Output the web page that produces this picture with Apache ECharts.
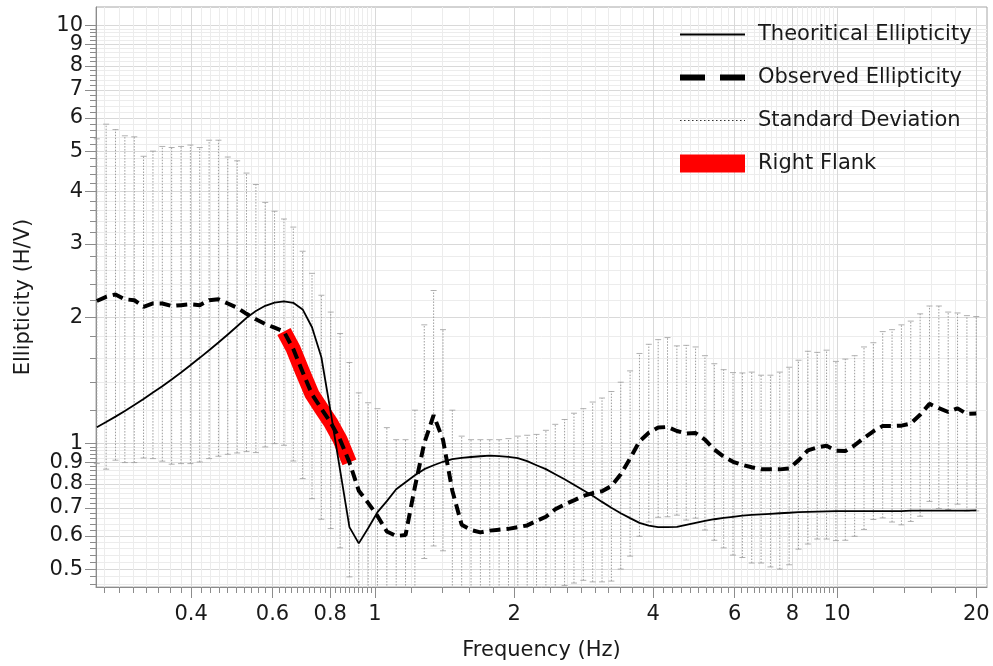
<!DOCTYPE html>
<html><head><meta charset="utf-8">
<script src="https://cdn.jsdelivr.net/npm/echarts@6/dist/echarts.min.js"></script>
<style>html,body{margin:0;padding:0;background:#fff}#chart{width:993px;height:666px}</style>
</head><body><div id="chart"></div>
<script>
// ---- data ----
const freqHz = [0.2500,0.2619,0.2744,0.2875,0.3013,0.3156,0.3307,0.3465,0.3630,0.3804,
0.3985,0.4175,0.4375,0.4583,0.4802,0.5031,0.5271,0.5523,0.5786,0.6062,
0.6352,0.6655,0.6972,0.7305,0.7654,0.8019,0.8402,0.8803,0.9222,0.9662,
1.0123,1.0606,1.1112,1.1642,1.2198,1.2780,1.3390,1.4029,1.4699,1.5400,
1.6135,1.6905,1.7712,1.8557,1.9443,2.0371,2.1343,2.2361,2.3428,2.4547,
2.5718,2.6945,2.8231,2.9578,3.0990,3.2469,3.4018,3.5642,3.7343,3.9125,
4.0992,4.2948,4.4998,4.7145,4.9395,5.1752,5.4222,5.6810,5.9521,6.2361,
6.5337,6.8455,7.1722,7.5145,7.8731,8.2488,8.6424,9.0549,9.4870,9.9396,
10.414,10.911,11.432,11.977,12.549,13.147,13.775,14.432,15.121,15.843,
16.599,17.391,18.221,19.090,20.000];

const theoretical = [1.092,1.124,1.158,1.195,1.234,1.276,1.322,1.369,1.421,1.477,
1.537,1.601,1.669,1.742,1.821,1.905,1.995,2.072,2.132,2.170,
2.185,2.168,2.090,1.895,1.606,1.186,0.862,0.630,0.576,0.626,
0.684,0.727,0.776,0.807,0.838,0.867,0.886,0.903,0.916,0.923,
0.927,0.931,0.934,0.932,0.928,0.921,0.906,0.886,0.867,0.843,
0.820,0.796,0.772,0.749,0.724,0.701,0.680,0.662,0.645,0.635,
0.630,0.630,0.631,0.638,0.645,0.652,0.658,0.663,0.667,0.671,
0.674,0.676,0.678,0.680,0.682,0.684,0.685,0.686,0.687,0.688,
0.688,0.688,0.688,0.688,0.688,0.688,0.688,0.690,0.690,0.690,
0.690,0.690,0.690,0.690,0.691];

const observed = [2.19,2.24,2.27,2.21,2.20,2.12,2.16,2.16,2.13,2.14,
2.15,2.14,2.20,2.21,2.16,2.11,2.04,1.98,1.93,1.89,
1.85,1.68,1.48,1.31,1.21,1.12,1.02,0.90,0.77,0.72,
0.67,0.615,0.60,0.603,0.786,1.00,1.167,1.02,0.77,0.638,
0.62,0.612,0.618,0.621,0.624,0.63,0.636,0.652,0.667,0.695,
0.714,0.73,0.748,0.76,0.768,0.79,0.843,0.92,1.01,1.06,
1.09,1.094,1.07,1.055,1.058,1.02,0.966,0.929,0.903,0.888,
0.876,0.866,0.866,0.866,0.87,0.91,0.962,0.977,0.986,0.96,
0.958,0.989,1.03,1.068,1.10,1.10,1.102,1.115,1.17,1.242,
1.213,1.188,1.212,1.175,1.178];

const stdUpper = [5.35,5.80,5.63,5.44,5.41,4.86,5.00,5.13,5.10,5.13,
5.17,5.10,5.31,5.31,4.84,4.74,4.43,4.16,3.77,3.59,
3.44,3.29,2.88,2.55,2.26,2.06,1.83,1.56,1.32,1.25,
1.21,1.09,1.02,1.02,1.20,1.92,2.32,1.87,1.20,1.04,
1.02,1.02,1.02,1.02,1.026,1.04,1.045,1.05,1.074,1.11,
1.14,1.18,1.21,1.255,1.283,1.33,1.40,1.49,1.64,1.725,
1.77,1.79,1.71,1.715,1.70,1.62,1.55,1.50,1.476,1.473,
1.48,1.455,1.455,1.48,1.52,1.58,1.66,1.65,1.67,1.57,
1.59,1.62,1.70,1.74,1.85,1.87,1.92,1.96,2.04,2.13,
2.13,2.06,2.05,2.02,2.01];

const stdLower = [0.894,0.867,0.911,0.899,0.899,0.922,0.919,0.906,0.891,0.894,
0.894,0.902,0.919,0.931,0.941,0.948,0.955,0.950,0.980,0.998,
0.989,0.907,0.823,0.737,0.658,0.625,0.562,0.479,0.40,0.40,
0.40,0.40,0.40,0.40,0.40,0.53,0.568,0.553,0.40,0.40,
0.40,0.40,0.40,0.40,0.40,0.40,0.40,0.40,0.40,0.40,
0.457,0.463,0.470,0.466,0.466,0.468,0.50,0.537,0.599,0.648,
0.665,0.667,0.673,0.655,0.662,0.62,0.586,0.562,0.54,0.533,
0.517,0.517,0.506,0.50,0.512,0.558,0.574,0.59,0.59,0.585,
0.586,0.599,0.622,0.657,0.663,0.648,0.638,0.65,0.669,0.726,
0.698,0.694,0.715,0.689,0.689];

const flankRangeHz = [0.63, 0.89];

const xTickLabels = [0.4, 0.6, 0.8, 1, 2, 4, 6, 8, 10, 20];
const yTickLabels = [0.5, 0.6, 0.7, 0.8, 0.9, 1, 2, 3, 4, 5, 6, 7, 8, 9, 10];
const xMinorSteps = [[0.26, 0.98, 0.02], [1.2, 1.8, 0.2], [2.2, 9.8, 0.2], [12, 18, 2]];
const yMinorSteps = [[0.46, 0.98, 0.02], [1.2, 1.8, 0.2], [2.2, 9.8, 0.2]];
const xRange = [0.249, 21.1];
const yRange = [0.453, 11.06];

const seriesNames = ['Theoritical Ellipticity', 'Observed Ellipticity', 'Standard Deviation', 'Right Flank'];
const axisTitles = { x: 'Frequency (Hz)', y: 'Ellipticity (H/V)' };

// ---- helpers ----
const L = Math.log10;
function expand(specs) {
  const out = [];
  specs.forEach(([a, b, s]) => {
    const n = Math.round((b - a) / s);
    for (let i = 0; i <= n; i++) out.push(+(a + i * s).toFixed(4));
  });
  return out;
}
const xMinor = expand(xMinorSteps).map(L);
const yMinor = expand(yMinorSteps).map(L);
const xMajor = xTickLabels.map(L);
const yMajor = yTickLabels.map(L);
// the y labels are tightly packed (9 / 10); split them over two overlapping axes
// so the library does not drop any of them as overlapping
const yLabelsA = yMajor.filter((v, i) => i % 2 === 0);
const yLabelsB = yMajor.filter((v, i) => i % 2 === 1);
const fmt = v => String(+Math.pow(10, v).toPrecision(3));

const FONT = 'DejaVu Sans';
const AX = '#8c8c8c';
const labelStyle = { fontFamily: FONT, fontSize: 21, color: '#1a1a1a' };

const pts = (xs, ys) => xs.map((f, i) => [L(f), L(ys[i])]);
const stdLine = [];
const stdCaps = [];
freqHz.forEach((f, i) => {
  stdLine.push([L(f), L(stdLower[i])], [L(f), L(stdUpper[i])], [L(f), null]);
  stdCaps.push([L(f), L(stdLower[i])], [L(f), L(stdUpper[i])]);
});
const flank = [];
freqHz.forEach((f, i) => { if (f >= flankRangeHz[0] && f <= flankRangeHz[1]) flank.push([L(f), L(observed[i])]); });

function xAxisBase(extra) {
  return Object.assign({
    type: 'value', gridIndex: 0, position: 'bottom',
    min: L(xRange[0]), max: L(xRange[1]),
    axisLine: { show: false, onZero: false }, axisLabel: { show: false },
    axisTick: { show: false }, splitLine: { show: false }
  }, extra);
}
function yAxisBase(extra) {
  return Object.assign({
    type: 'value', gridIndex: 0, position: 'left',
    min: L(yRange[0]), max: L(yRange[1]),
    axisLine: { show: false, onZero: false }, axisLabel: { show: false },
    axisTick: { show: false }, splitLine: { show: false }
  }, extra);
}

const option = {
  backgroundColor: '#ffffff',
  animation: false,
  grid: { left: 96, right: 6, top: 7, bottom: 79, show: true, borderColor: '#a6a6a6', borderWidth: 1,
          containLabel: false, outerBoundsMode: 'none' },
  legend: {
    orient: 'vertical', left: 672, top: 19, itemWidth: 65, itemHeight: 18, itemGap: 22,
    selectedMode: false,
    textStyle: Object.assign({ padding: [0, 0, 0, 8] }, labelStyle),
    data: [
      { name: seriesNames[0], lineStyle: { width: 2, type: 'solid' }, itemStyle: { opacity: 0 } },
      { name: seriesNames[1], lineStyle: { width: 6, type: [25, 15] }, itemStyle: { opacity: 0 } },
      { name: seriesNames[2], lineStyle: { width: 1.2, type: [1.5, 2.5], color: '#333333' }, itemStyle: { opacity: 0 } },
      { name: seriesNames[3], icon: 'rect', itemStyle: { color: '#ff0000', borderWidth: 0 } }
    ]
  },
  xAxis: [
    xAxisBase({
      name: axisTitles.x, nameLocation: 'middle', nameGap: 53,
      nameTextStyle: labelStyle,
      axisLine: { show: true, onZero: false, lineStyle: { color: AX, width: 1 } },
      axisTick: { show: true, length: 6, lineStyle: { color: AX }, customValues: xMinor.concat(xMajor) },
      axisLabel: Object.assign({ show: true, customValues: xMajor, formatter: fmt, margin: 17, hideOverlap: false }, labelStyle),
      splitLine: { show: true, lineStyle: { color: '#ececec', width: 1 } }
    }),
    xAxisBase({
      axisTick: { show: true, length: 11, lineStyle: { color: AX }, customValues: xMajor },
      splitLine: { show: true, lineStyle: { color: '#d9d9d9', width: 1 } }
    })
  ],
  yAxis: [
    yAxisBase({
      name: axisTitles.y, nameLocation: 'middle', nameGap: 62,
      nameTextStyle: labelStyle,
      axisLine: { show: true, onZero: false, lineStyle: { color: AX, width: 1 } },
      axisTick: { show: true, length: 6, lineStyle: { color: AX }, customValues: yMinor.concat(yMajor) },
      axisLabel: Object.assign({ show: true, customValues: yLabelsA, formatter: fmt, margin: 13,
                   hideOverlap: false, showMaxLabel: true, showMinLabel: true }, labelStyle),
      splitLine: { show: true, lineStyle: { color: '#ececec', width: 1 } }
    }),
    yAxisBase({
      axisTick: { show: true, length: 11, lineStyle: { color: AX }, customValues: yMajor },
      axisLabel: Object.assign({ show: true, customValues: yLabelsB, formatter: fmt, margin: 13,
                   hideOverlap: false, showMaxLabel: true, showMinLabel: true }, labelStyle),
      splitLine: { show: true, lineStyle: { color: '#d9d9d9', width: 1 } }
    })
  ],
  series: [
    {
      name: seriesNames[2], type: 'line', xAxisIndex: 0, yAxisIndex: 0,
      data: stdLine, symbol: 'none', connectNulls: false, silent: true, clip: true, z: 2,
      color: '#9c9c9c',
      lineStyle: { color: '#9c9c9c', width: 1, type: [1.5, 1.5] }
    },
    {
      name: 'stdCaps', type: 'scatter', xAxisIndex: 0, yAxisIndex: 0,
      data: stdCaps, symbol: 'rect', symbolSize: [6, 1], silent: true, clip: true, z: 2,
      itemStyle: { color: '#9c9c9c' }
    },
    {
      name: seriesNames[3], type: 'line', xAxisIndex: 0, yAxisIndex: 0,
      data: flank, symbol: 'none', silent: true, z: 3, color: '#ff0000',
      lineStyle: { color: '#ff0000', width: 15, cap: 'butt', join: 'round' }
    },
    {
      name: seriesNames[0], type: 'line', xAxisIndex: 0, yAxisIndex: 0,
      data: pts(freqHz, theoretical), symbol: 'none', silent: true, z: 4, color: '#000000',
      lineStyle: { color: '#000000', width: 1.8, type: 'solid' }
    },
    {
      name: seriesNames[1], type: 'line', xAxisIndex: 0, yAxisIndex: 0,
      data: pts(freqHz, observed), symbol: 'none', silent: true, z: 5, color: '#000000',
      lineStyle: { color: '#000000', width: 4, type: [11, 6] }
    }
  ]
};

const chart = echarts.init(document.getElementById('chart'), null, { renderer: 'canvas' });
chart.setOption(option);
</script>
</body></html>
